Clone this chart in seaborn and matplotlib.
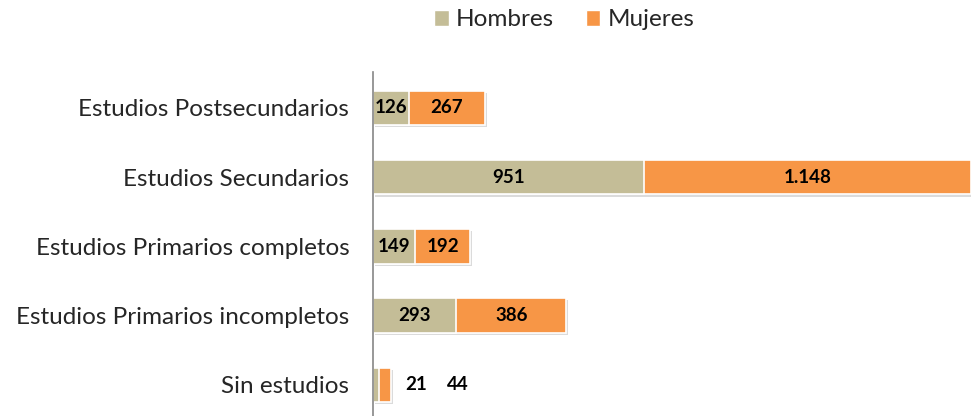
import matplotlib
matplotlib.use("Agg")
import matplotlib.pyplot as plt
import matplotlib.patheffects as pe
from matplotlib.patches import Patch
import seaborn as sns
import pandas as pd

categories = ["Estudios Postsecundarios", "Estudios Secundarios",
              "Estudios Primarios completos", "Estudios Primarios incompletos",
              "Sin estudios"]
hombres = [126, 951, 149, 293, 21]
mujeres = [267, 1148, 192, 386, 44]
hombres_labels = ["126", "951", "149", "293", "21"]
mujeres_labels = ["267", "1.148", "192", "386", "44"]

c_h = "#C4BD97"
c_m = "#F79646"

sns.set_style("white")
plt.rcParams['font.family'] = ['Lato', 'DejaVu Sans']

df = pd.DataFrame({"cat": categories, "h": hombres, "m": mujeres})
df["total"] = df["h"] + df["m"]

fig = plt.figure(figsize=(9.71, 4.16), dpi=100)
ax = fig.add_axes([0.384, 0.0, 0.616, 0.827])

shadow = [pe.SimplePatchShadow(offset=(1.5, -1.5), shadow_rgbFace="#999999", alpha=0.35), pe.Normal()]

sns.barplot(data=df, y="cat", x="total", color=c_m, orient="h", width=0.5,
            edgecolor="white", linewidth=1.2, ax=ax, saturation=1)
n_tot = len(ax.patches)
sns.barplot(data=df, y="cat", x="h", color=c_h, orient="h", width=0.5,
            edgecolor="white", linewidth=1.2, ax=ax, saturation=1)
for p in ax.patches[:n_tot]:
    p.set_path_effects(shadow)

ax.set_xlim(0, 2100)
ax.set_ylim(4.45, -0.52)
ax.set_xlabel("")
ax.set_ylabel("")
ax.set_xticks([])
for s in ["top", "right", "bottom"]:
    ax.spines[s].set_visible(False)
ax.spines["left"].set_color("#868686")
ax.spines["left"].set_linewidth(1.2)
ax.tick_params(axis="y", length=0, pad=17, labelsize=17.5)

txt_kw = dict(ha="center", va="center", fontsize=13.5, fontweight="bold", color="black")
for i, (h, m) in enumerate(zip(hombres, mujeres)):
    if h + m > 100:
        ax.text(h / 2, i, hombres_labels[i], **txt_kw)
        ax.text(h + m / 2, i, mujeres_labels[i], **txt_kw)
    else:
        ax.annotate(hombres_labels[i], (h + m, i), xytext=(17.6, 0), textcoords="offset points", **txt_kw)
        ax.annotate(mujeres_labels[i], (h + m, i), xytext=(48, 0), textcoords="offset points", **txt_kw)

handles = [Patch(facecolor=c_h, label="Hombres"), Patch(facecolor=c_m, label="Mujeres")]
fig.legend(handles=handles, loc="center", bbox_to_anchor=(0.581, 0.952), ncol=2,
           frameon=False, fontsize=17.5, handlelength=0.6, handleheight=0.6,
           handletextpad=0.3, columnspacing=1.3)

fig.savefig("out.png", dpi=100)
